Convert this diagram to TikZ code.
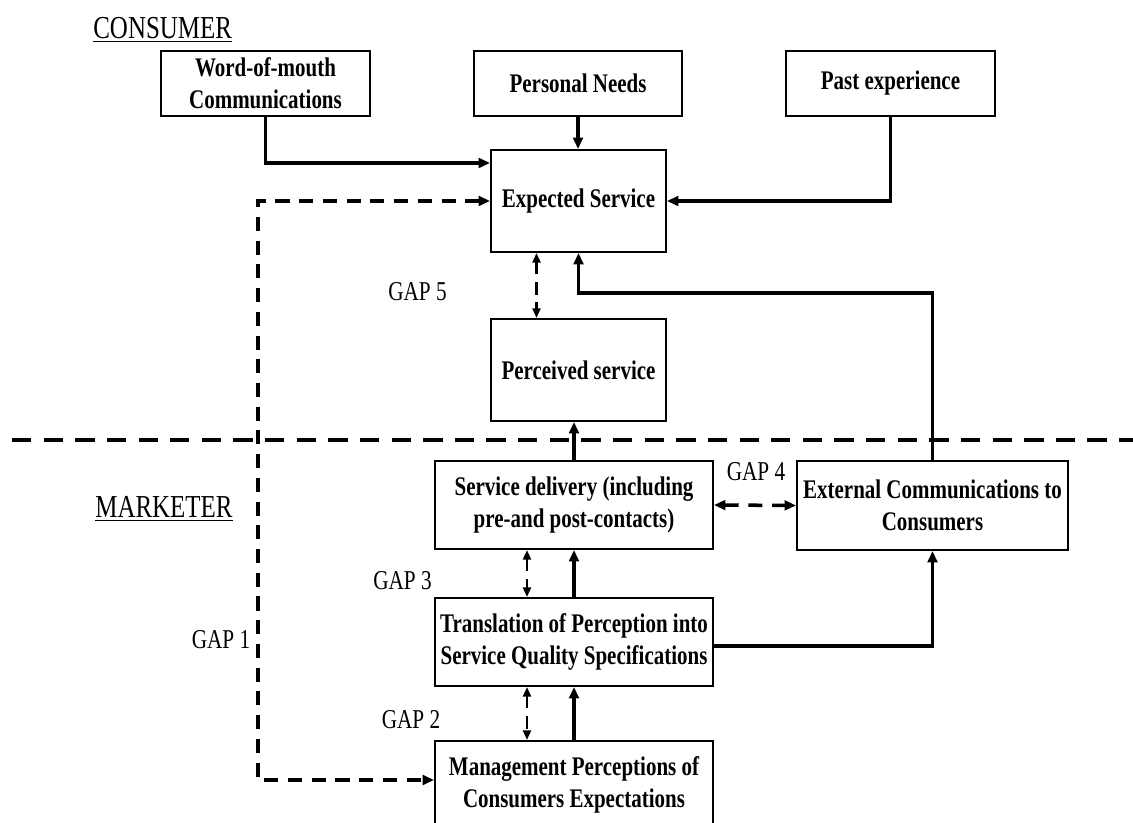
\documentclass[tikz,border=0pt]{standalone}
\usepackage{fontspec}
\setmainfont{Liberation Serif}[FakeStretch=0.78]
\usepackage{tikz}
\usetikzlibrary{arrows.meta,calc}

\begin{document}
\begin{tikzpicture}[>={Triangle[length=6.5pt,width=5.5pt]},
  box/.style={draw,line width=1.1pt,align=center,inner sep=0pt,font=\fontsize{15.3}{18}\selectfont\bfseries},
  lbl/.style={font=\fontsize{15.5}{18}\selectfont},
  side/.style={font=\fontsize{18.2}{22}\selectfont,anchor=base west,inner sep=0pt},
  flow/.style={line width=1.9pt,->},
  gapdash/.style={line width=2pt,dash pattern=on 8pt off 5.5pt,<->},
  gapsmall/.style={line width=1.4pt,dash pattern=on 7pt off 4.5pt,{Triangle[length=5.5pt,width=4.5pt]}-{Triangle[length=5.5pt,width=4.5pt]}},
  sepline/.style={line width=2.4pt,dash pattern=on 11pt off 7pt}]
  \useasboundingbox (0,0) rectangle (22.66,16.46);

  \node[side] (consumer) at (1.86,15.68) {\underline{CONSUMER}};
  \node[side] (marketer) at (1.9,6.1) {\underline{MARKETER}};

  \node[box,minimum width=4.18cm,minimum height=1.3cm] (wom) at (5.31,14.79) {Word-of-mouth\\Communications};
  \node[box,minimum width=4.16cm,minimum height=1.3cm] (needs) at (11.56,14.79) {Personal Needs};
  \node[box,minimum width=4.18cm,minimum height=1.3cm] (past) at (17.81,14.79) {Past experience};
  \node[box,minimum width=3.5cm,minimum height=2.04cm] (expected) at (11.57,12.44) {Expected Service};
  \node[box,minimum width=3.5cm,minimum height=2.04cm] (perceived) at (11.57,9.06) {Perceived service};
  \node[box,minimum width=5.56cm,minimum height=1.76cm] (delivery) at (11.48,6.36) {Service delivery (including\\pre-and post-contacts)};
  \node[box,minimum width=5.42cm,minimum height=1.78cm] (extcomm) at (18.65,6.35) {External Communications to\\Consumers};
  \node[box,minimum width=5.56cm,minimum height=1.76cm] (translation) at (11.48,3.62) {Translation of Perception into\\Service Quality Specifications};
  \node[box,minimum width=5.56cm,minimum height=1.76cm] (mgmt) at (11.48,0.76) {Management Perceptions of\\Consumers Expectations};

  \node[lbl] (gap5) at (8.35,10.62) {GAP 5};
  \node[lbl] (gap4) at (15.12,7.02) {GAP 4};
  \node[lbl] (gap3) at (8.05,4.84) {GAP 3};
  \node[lbl] (gap2) at (8.22,2.06) {GAP 2};
  \node[lbl] (gap1) at (4.42,3.66) {GAP 1};

  \draw[sepline] (0.24,7.66) -- (22.66,7.66);

  \draw[flow] (wom.south) |- ([yshift=0.76cm]expected.west);
  \draw[flow] (needs.south) -- (needs.south |- expected.north);
  \draw[flow] (past.south) |- (expected.east);
  \draw[flow] (extcomm.north) |- ([yshift=-0.8cm]expected.south) -- (expected.south);
  \draw[flow] (delivery.north) -- (delivery.north |- perceived.south);
  \draw[flow] (translation.north) -- (delivery.south);
  \draw[flow] (mgmt.north) -- (translation.south);
  \draw[flow] ([yshift=-0.08cm]translation.east) -| (extcomm.south);

  \draw[gapsmall] ([xshift=-0.84cm]expected.south) -- ([xshift=-0.84cm]perceived.north);
  \draw[gapsmall] ([xshift=-0.94cm]delivery.south) -- ([xshift=-0.94cm]translation.north);
  \draw[gapsmall] ([xshift=-0.94cm]translation.south) -- ([xshift=-0.94cm]mgmt.north);
  \draw[gapdash] (delivery.east) -- (extcomm.west);
  \coordinate (g1) at (5.16,0.86);
  \draw[gapdash] (expected.west) -| (g1) -- (g1 -| mgmt.west);
\end{tikzpicture}
\end{document}
